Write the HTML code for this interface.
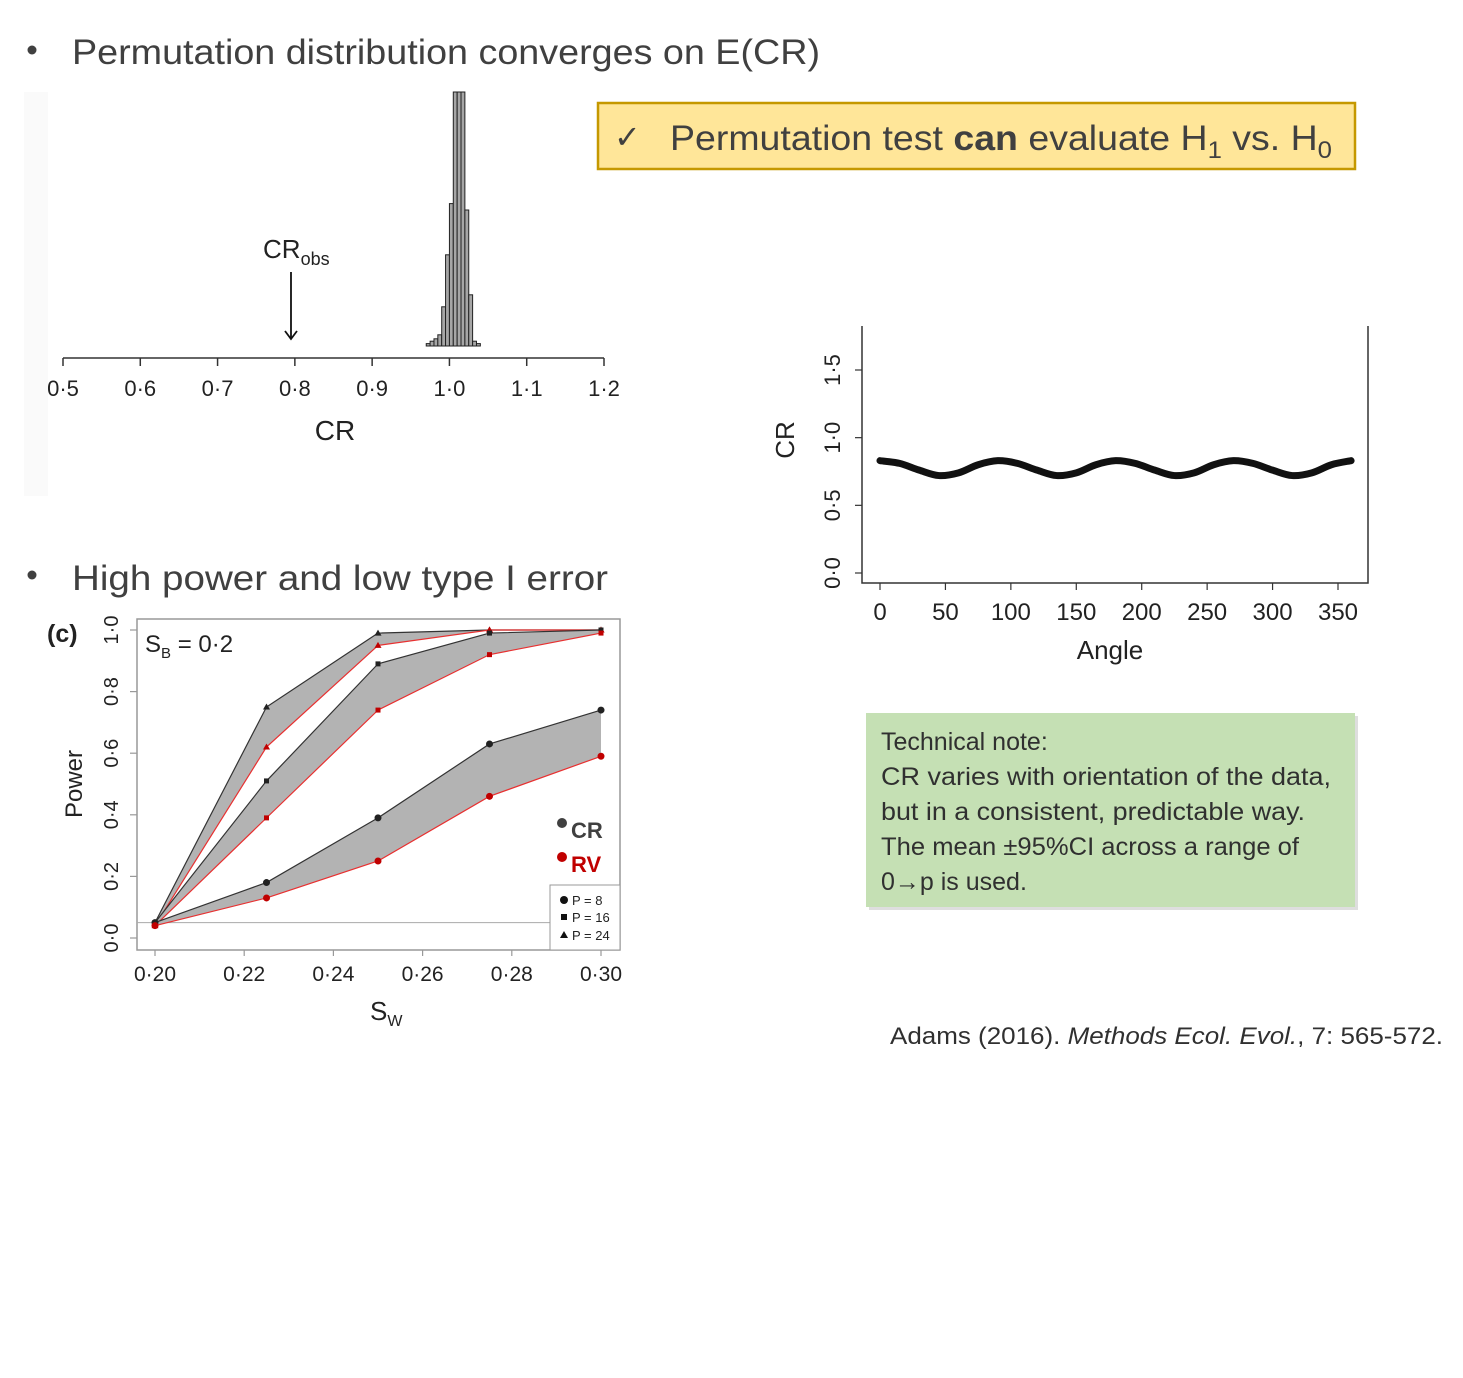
<!DOCTYPE html>
<html><head><meta charset="utf-8">
<style>
html,body{margin:0;padding:0;background:#fff;}
svg{display:block;font-family:"Liberation Sans",sans-serif;}
</style></head>
<body>
<svg id="page" width="1463" height="1378" viewBox="0 0 1463 1378" xmlns="http://www.w3.org/2000/svg">
  <rect width="1463" height="1378" fill="#fff"/>
  <!-- Bullet 1 -->
  <g fill="#404040">
    <circle cx="32" cy="50" r="4.5"/>
    <text x="72" y="64" font-size="35" textLength="748" lengthAdjust="spacingAndGlyphs">Permutation distribution converges on E(CR)</text>
  </g>
  <!-- Bullet 2 -->
  <g fill="#404040">
    <circle cx="32" cy="575" r="4.5"/>
    <text x="72" y="590" font-size="35" textLength="536" lengthAdjust="spacingAndGlyphs">High power and low type I error</text>
  </g>
  <!-- Yellow callout -->
  <g>
    <rect x="598" y="103" width="757" height="66" fill="#ffe699" stroke="#c59800" stroke-width="2.5"/>
    <text x="614" y="148" font-size="32" fill="#404040">✓</text>
    <text x="670" y="150" font-size="35" fill="#404040" textLength="662" lengthAdjust="spacingAndGlyphs">Permutation test <tspan font-weight="bold">can</tspan> evaluate H<tspan font-size="24" dy="8">1</tspan><tspan dy="-8"> vs. H</tspan><tspan font-size="24" dy="8">0</tspan></text>
  </g>
  <!-- Green note -->
  <g>
    <rect x="869" y="716" width="489" height="194" fill="#a0a0a0" opacity="0.35"/>
    <rect x="866" y="713" width="489" height="194" fill="#c5e0b4"/>
    <g font-size="25" fill="#303030">
      <text x="881" y="750">Technical note:</text>
      <text x="881" y="785" textLength="450" lengthAdjust="spacingAndGlyphs">CR varies with orientation of the data,</text>
      <text x="881" y="820" textLength="424" lengthAdjust="spacingAndGlyphs">but in a consistent, predictable way.</text>
      <text x="881" y="855" textLength="418" lengthAdjust="spacingAndGlyphs">The mean ±95%CI across a range of</text>
      <text x="881" y="890">0→p is used.</text>
    </g>
  </g>
  <text x="890" y="1044" font-size="24" fill="#303030" textLength="553" lengthAdjust="spacingAndGlyphs">Adams (2016). <tspan font-style="italic">Methods Ecol. Evol.</tspan>, 7: 565-572.</text>

  <g id="hist"></g>
  <g id="sine"></g>
  <g id="power"></g>
</svg>
<script>
const NS="http://www.w3.org/2000/svg";
// ---------- Histogram data ----------
const histBinStarts=[0.970,0.975,0.980,0.985,0.990,0.995,1.000,1.005,1.010,1.015,1.020,1.025,1.030,1.035];
const histCounts=[3,6,9,14,49,114,178,320,320,320,170,64,6,3];
const histTicks=[0.5,0.6,0.7,0.8,0.9,1.0,1.1,1.2];
const histTickLabels=["0·5","0·6","0·7","0·8","0·9","1·0","1·1","1·2"];
const crObs=0.795;
// ---------- Sine chart data ----------
const angleValues=[0,15,30,45,60,75,90,105,120,135,150,165,180,195,210,225,240,255,270,285,300,315,330,345,360];
const crValues=[0.83,0.81,0.76,0.72,0.74,0.80,0.83,0.81,0.76,0.72,0.74,0.80,0.83,0.81,0.76,0.72,0.74,0.80,0.83,0.81,0.76,0.72,0.74,0.80,0.83];
const angleTicks=[0,50,100,150,200,250,300,350];
const crTicks=[0,0.5,1.0,1.5];
const crTickLabels=["0·0","0·5","1·0","1·5"];
// ---------- Power chart data ----------
const swValues=[0.20,0.225,0.25,0.275,0.30];
const cr24=[0.05,0.75,0.99,1.00,1.00];
const rv24=[0.04,0.62,0.95,1.00,1.00];
const cr16=[0.05,0.51,0.89,0.99,1.00];
const rv16=[0.04,0.39,0.74,0.92,0.99];
const cr8=[0.05,0.18,0.39,0.63,0.74];
const rv8=[0.04,0.13,0.25,0.46,0.59];
const swTicks=[0.20,0.22,0.24,0.26,0.28,0.30];
const swTickLabels=["0·20","0·22","0·24","0·26","0·28","0·30"];
const powTicks=[0,0.2,0.4,0.6,0.8,1.0];
const powTickLabels=["0·0","0·2","0·4","0·6","0·8","1·0"];

function mk(parent,tag,attrs,text){const e=document.createElementNS(NS,tag);for(const k in attrs)e.setAttribute(k,attrs[k]);if(text!==undefined)e.textContent=text;parent.appendChild(e);return e;}

// ===== Histogram =====
(function(){
  const g=document.getElementById('hist');
  const x=v=>63+(v-0.5)*(604-63)/0.7;
  const base=346, y=c=>base-c*0.8;
  mk(g,'rect',{x:24,y:92,width:24,height:404,fill:'#fafafa'});
  histBinStarts.forEach((b,i)=>{
    const top=Math.max(92,y(histCounts[i]));
    const r=mk(g,'rect',{x:x(b),y:top,width:x(b+0.005)-x(b),height:base-top,fill:'#a6a6a6',stroke:'#222','stroke-width':1});
    
    
  });
  mk(g,'line',{x1:x(0.5),x2:x(1.2),y1:358,y2:358,stroke:'#333','stroke-width':1.5});
  histTicks.forEach((t,i)=>{
    mk(g,'line',{x1:x(t),x2:x(t),y1:358,y2:366,stroke:'#333','stroke-width':1.5});
    const tl=mk(g,'text',{x:x(t),y:396,'font-size':22,'text-anchor':'middle',fill:'#222'},histTickLabels[i]);
    
    
  });
  const xt=mk(g,'text',{x:335,y:440,'font-size':28,'text-anchor':'middle',fill:'#222'},'CR');
  
  
  const lab=mk(g,'text',{x:263,y:258,'font-size':26,fill:'#222'},'CR');
  mk(lab,'tspan',{'font-size':18,dy:7},'obs');
  mk(g,'line',{x1:x(crObs),x2:x(crObs),y1:272,y2:338,stroke:'#111','stroke-width':1.8});
  mk(g,'path',{d:`M${x(crObs)-6} ${331} L${x(crObs)} ${339} L${x(crObs)+6} ${331}`,fill:'none',stroke:'#111','stroke-width':1.8});
})();

// ===== Sine chart =====
(function(){
  const g=document.getElementById('sine');
  const x=v=>880+v*(1338-880)/350;
  const y=v=>573-v*(573-370)/1.5;
  mk(g,'path',{d:'M862 326 L862 583 L1368 583 L1368 326',fill:'none',stroke:'#333','stroke-width':1.5});
  crTicks.forEach((t,i)=>{
    mk(g,'line',{x1:855,x2:862,y1:y(t),y2:y(t),stroke:'#333','stroke-width':1.2});
    const tl=mk(g,'text',{x:0,y:0,'font-size':22,'text-anchor':'middle',fill:'#222',transform:`translate(840 ${y(t)}) rotate(-90)`},crTickLabels[i]);
    
    
  });
  angleTicks.forEach(t=>{
    mk(g,'line',{x1:x(t),x2:x(t),y1:583,y2:590,stroke:'#333','stroke-width':1.2});
    const tl=mk(g,'text',{x:x(t),y:620,'font-size':24,'text-anchor':'middle',fill:'#222'},String(t));
    
    
  });
  mk(g,'text',{x:1110,y:659,'font-size':26,'text-anchor':'middle',fill:'#222'},'Angle');
  mk(g,'text',{x:0,y:0,'font-size':26,'text-anchor':'middle',fill:'#222',transform:'translate(794 440) rotate(-90)'},'CR');
  // smooth curve through points (Catmull-Rom)
  const pts=angleValues.map((a,i)=>[x(a),y(crValues[i])]);
  let d=`M${pts[0][0]} ${pts[0][1]}`;
  for(let i=0;i<pts.length-1;i++){
    const p0=pts[Math.max(0,i-1)],p1=pts[i],p2=pts[i+1],p3=pts[Math.min(pts.length-1,i+2)];
    d+=` C${p1[0]+(p2[0]-p0[0])/6} ${p1[1]+(p2[1]-p0[1])/6} ${p2[0]-(p3[0]-p1[0])/6} ${p2[1]-(p3[1]-p1[1])/6} ${p2[0]} ${p2[1]}`;
  }
  const ln=mk(g,'path',{d:d,fill:'none',stroke:'#111','stroke-width':7,'stroke-linecap':'round'});
  
  
})();

// ===== Power chart =====
(function(){
  const g=document.getElementById('power');
  const x=v=>155+(v-0.2)*(601-155)/0.1;
  const y=v=>938-v*(938-630);
  mk(g,'rect',{x:137,y:619,width:483,height:331,fill:'none',stroke:'#999','stroke-width':1.5});
  mk(g,'line',{x1:137,x2:620,y1:y(0.05),y2:y(0.05),stroke:'#aaa','stroke-width':1});
  powTicks.forEach((t,i)=>{
    mk(g,'line',{x1:130,x2:137,y1:y(t),y2:y(t),stroke:'#999','stroke-width':1.2});
    const tl=mk(g,'text',{x:0,y:0,'font-size':20,'text-anchor':'middle',fill:'#222',transform:`translate(118 ${y(t)}) rotate(-90)`},powTickLabels[i]);
    
    
  });
  swTicks.forEach((t,i)=>{
    mk(g,'line',{x1:x(t),x2:x(t),y1:950,y2:956,stroke:'#999','stroke-width':1.2});
    const tl=mk(g,'text',{x:x(t),y:981,'font-size':21,'text-anchor':'middle',fill:'#222'},swTickLabels[i]);
    
    
  });
  mk(g,'text',{x:0,y:0,'font-size':24,'text-anchor':'middle',fill:'#222',transform:'translate(82 784) rotate(-90)'},'Power');
  const xt=mk(g,'text',{x:370,y:1020,'font-size':26,fill:'#222'},'S');
  mk(xt,'tspan',{'font-size':16,dy:6},'W');
  mk(g,'text',{x:47,y:642,'font-size':25,'font-weight':'bold',fill:'#222'},'(c)');
  const sb=mk(g,'text',{x:145,y:652,'font-size':24,fill:'#222'},'S');
  mk(sb,'tspan',{'font-size':15,dy:6},'B');
  mk(sb,'tspan',{dy:-6},' = 0·2');
  const series=[[cr24,rv24,'tri'],[cr16,rv16,'sq'],[cr8,rv8,'circ']];
  series.forEach(([c,r,shape])=>{
    const top=swValues.map((s,i)=>`${x(s)},${y(c[i])}`);
    const bot=swValues.map((s,i)=>`${x(s)},${y(r[i])}`).reverse();
    const band=mk(g,'polygon',{points:top.concat(bot).join(' '),fill:'#b3b3b3'});
    
    
    mk(g,'polyline',{points:top.join(' '),fill:'none',stroke:'#333','stroke-width':1.2});
    mk(g,'polyline',{points:swValues.map((s,i)=>`${x(s)},${y(r[i])}`).join(' '),fill:'none',stroke:'#e83030','stroke-width':1.2});
    [[c,'#222'],[r,'#c00000']].forEach(([arr,col])=>{
      swValues.forEach((s,i)=>{
        const px=x(s),py=y(arr[i]);let m;
        if(shape==='circ') m=mk(g,'circle',{cx:px,cy:py,r:3.5,fill:col});
        else if(shape==='sq') m=mk(g,'rect',{x:px-2.5,y:py-2.5,width:5,height:5,fill:col});
        else m=mk(g,'path',{d:`M${px} ${py-3.5} L${px+3.5} ${py+2.5} L${px-3.5} ${py+2.5}Z`,fill:col});
        
        
      });
    });
  });
  // legends
  mk(g,'circle',{cx:562,cy:823,r:5,fill:'#404040'});
  mk(g,'text',{x:571,y:838,'font-size':22,'font-weight':'bold',fill:'#404040'},'CR');
  mk(g,'circle',{cx:562,cy:857,r:5,fill:'#c00000'});
  mk(g,'text',{x:571,y:872,'font-size':22,'font-weight':'bold',fill:'#c00000'},'RV');
  mk(g,'rect',{x:550,y:885,width:70,height:65,fill:'#fff',stroke:'#999','stroke-width':1});
  mk(g,'circle',{cx:564,cy:900,r:4,fill:'#111'});
  mk(g,'text',{x:572,y:905,'font-size':13,fill:'#222'},'P = 8');
  mk(g,'rect',{x:561,y:914,width:6,height:6,fill:'#111'});
  mk(g,'text',{x:572,y:922,'font-size':13,fill:'#222'},'P = 16');
  mk(g,'path',{d:'M564 931 L568 938 L560 938Z',fill:'#111'});
  mk(g,'text',{x:572,y:940,'font-size':13,fill:'#222'},'P = 24');
})();
</script>
</body></html>
